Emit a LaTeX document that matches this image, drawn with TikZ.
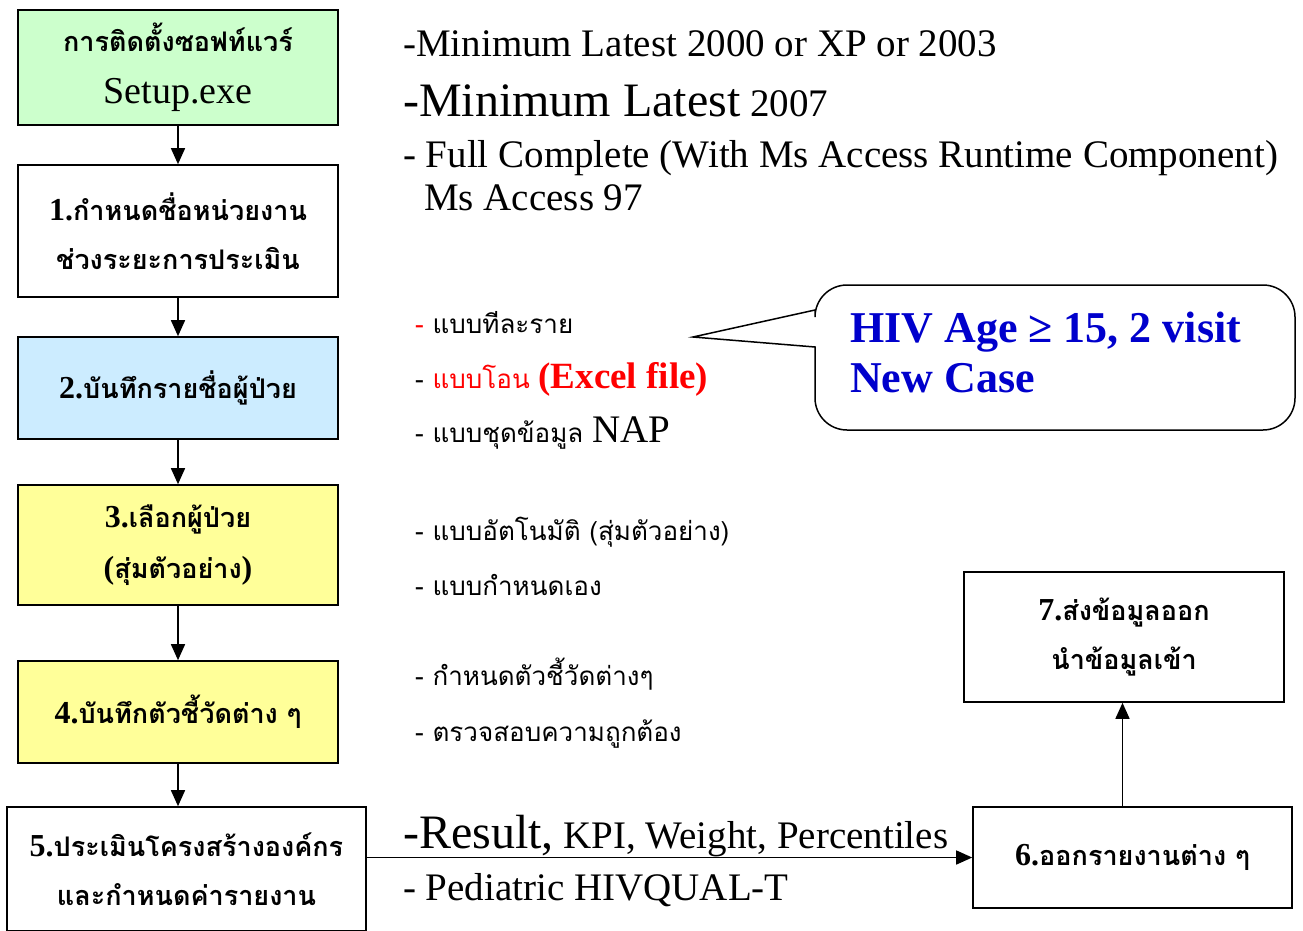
\documentclass[tikz,border=0pt]{standalone}
\usepackage{fontspec}
\setmainfont{Liberation Serif}
\newfontfamily\thaifont[Script=Thai]{Loma}
\usetikzlibrary{arrows.meta}
\definecolor{setupgreen}{HTML}{CCFFCC}
\definecolor{listblue}{HTML}{CCECFF}
\definecolor{pickyellow}{HTML}{FFFF99}
\definecolor{noteblue}{HTML}{0000CC}

\begin{document}
\begin{tikzpicture}[x=1pt,y=-1pt,
  box/.style={draw,line width=1.6pt,align=center,inner sep=0pt,minimum width=320pt,
    font=\thaifont\bfseries\fontsize{27}{49}\selectfont},
  eng/.style={anchor=base west,inner sep=0pt,font=\fontsize{39}{42}\selectfont},
  item/.style={anchor=base west,inner sep=0pt,font=\thaifont\fontsize{26}{30}\selectfont},
  arr/.style={-{Triangle[length=16pt,width=14pt]},line width=1.5pt}]
\useasboundingbox (0,0) rectangle (1303,931);
\node[box,fill=setupgreen,minimum height=115pt] (setup) at (178,67.5) {การติดตั้งซอฟท์แวร์\\[3pt]{\rmfamily\mdseries\fontsize{38}{49}\selectfont Setup.exe}};
\node[box,minimum height=132pt] (unit) at (178,231) {{\rmfamily\fontsize{32}{49}\selectfont 1.}กำหนดชื่อหน่วยงาน\\ช่วงระยะการประเมิน};
\node[box,fill=listblue,minimum height=102pt] (list) at (178,388) {{\rmfamily\fontsize{32}{49}\selectfont 2.}บันทึกรายชื่อผู้ป่วย};
\node[box,fill=pickyellow,minimum height=120pt] (pick) at (178,545) {{\rmfamily\fontsize{32}{49}\selectfont 3.}เลือกผู้ป่วย\\[2pt]{\rmfamily\fontsize{32}{49}\selectfont(}สุ่มตัวอย่าง{\rmfamily\fontsize{32}{49}\selectfont)}};
\node[box,fill=pickyellow,minimum height=102pt] (kpi) at (178,712) {{\rmfamily\fontsize{32}{49}\selectfont 4.}บันทึกตัวชี้วัดต่าง ๆ};
\node[box,minimum width=359pt,minimum height=124pt] (eval) at (186.5,869) {{\rmfamily\fontsize{32}{49}\selectfont 5.}ประเมินโครงสร้างองค์กร\\และกำหนดค่ารายงาน};
\node[box,minimum width=319pt,minimum height=101pt] (report) at (1132.5,857.5) {{\rmfamily\fontsize{32}{49}\selectfont 6.}ออกรายงานต่าง ๆ};
\node[box,minimum width=320pt,minimum height=130pt] (export) at (1124,637) {{\rmfamily\fontsize{32}{49}\selectfont 7.}ส่งข้อมูลออก\\นำข้อมูลเข้า};

\node[eng] (req1) at (403,57) {-Minimum Latest 2000 or XP or 2003};
\node[eng] (req2) at (403,117) {{\fontsize{48}{50}\selectfont -Minimum Latest} 2007};
\node[eng] (req3) at (403,167) {- Full Complete (With Ms Access Runtime Component)};
\node[eng] (req4) at (424,210) {Ms Access 97};

\node[item] (way1) at (415,333) {{\color{red}-} แบบทีละราย};
\node[item] (way2) at (415,388) {- {\color{red}แบบโอน {\rmfamily\bfseries\fontsize{37}{40}\selectfont (Excel file)}}};
\node[item] (way3) at (415,442) {- แบบชุดข้อมูล {\rmfamily\fontsize{39}{40}\selectfont NAP}};
\node[item] (pick1) at (415,540) {- แบบอัตโนมัติ (สุ่มตัวอย่าง)};
\node[item] (pick2) at (415,595) {- แบบกำหนดเอง};
\node[item] (kpi1) at (415,685) {- กำหนดตัวชี้วัดต่างๆ};
\node[item] (kpi2) at (415,741) {- ตรวจสอบความถูกต้อง};

\draw[line width=1.5pt] (693,337) -- (815,310) [rounded corners=32pt] -- (815,285) -- (1295,285) -- (1295,430) -- (815,430) [sharp corners] -- (815,347) -- cycle;
\node[anchor=base west,inner sep=0pt,align=left,text=noteblue,font=\rmfamily\bfseries\fontsize{44}{50}\selectfont] (note) at (850,392) {HIV Age ≥ 15, 2 visit\\New Case};

\node[eng] (res) at (403,848) {{\fontsize{48}{50}\selectfont -Result,} KPI, Weight, Percentiles};
\node[eng] (ped) at (403,900) {- Pediatric HIVQUAL-T};

\draw[arr] (setup) -- (unit);
\draw[arr] (unit) -- (list);
\draw[arr] (list) -- (pick);
\draw[arr] (pick) -- (kpi);
\draw[arr] (kpi) -- (eval.north -| kpi);
\draw[arr] (eval.east |- report) -- (report);
\draw[arr] ([xshift=-10pt]report.north) -- ([xshift=-10pt]report.north |- export.south);
\end{tikzpicture}
\end{document}
